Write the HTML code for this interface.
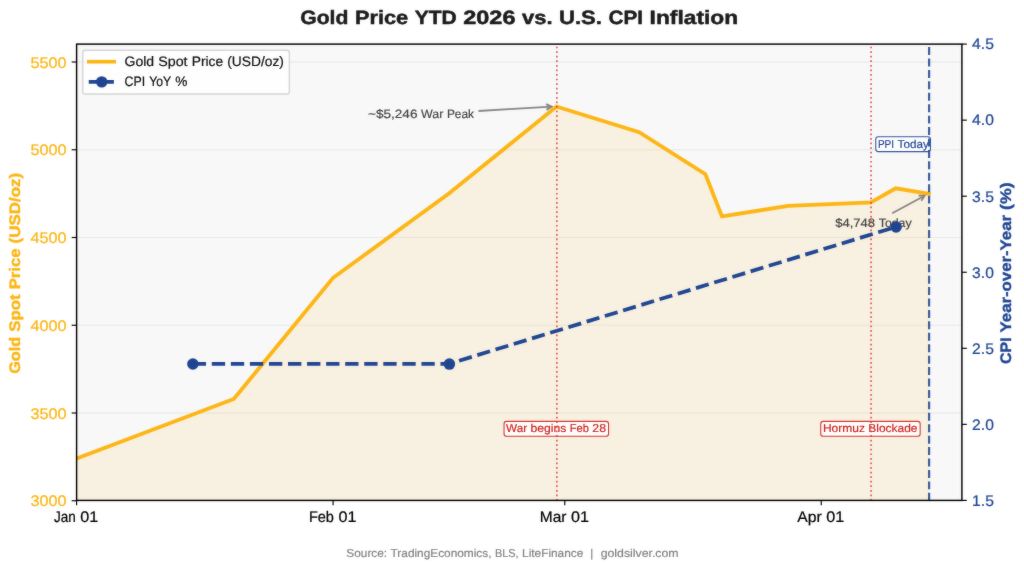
<!DOCTYPE html>
<html lang="en"><head><meta charset="utf-8"><title>Gold Price YTD 2026 vs. U.S. CPI Inflation</title>
<style>html,body{margin:0;padding:0;background:#fff;}body{width:1024px;height:571px;overflow:hidden;font-family:"Liberation Sans",sans-serif;}svg{display:block;will-change:transform;font-family:"Liberation Sans",sans-serif;}text{white-space:pre;text-rendering:geometricPrecision;}</style>
</head><body>
<svg width="1024" height="571" viewBox="0 0 1024 571">
<defs><filter id="soft" x="0" y="0" width="1024" height="571" filterUnits="userSpaceOnUse" color-interpolation-filters="sRGB"><feGaussianBlur in="SourceGraphic" stdDeviation="0.8" result="b"/><feComposite in="SourceGraphic" in2="b" operator="arithmetic" k1="0" k2="0.72" k3="0.28" k4="0"/></filter></defs>
<g filter="url(#soft)">
<rect x="0" y="0" width="1024" height="571" fill="#ffffff"/>
<!-- axes background -->
<rect x="76.60" y="44.10" width="885.30" height="456.30" fill="#f8f8f8"/>
<!-- horizontal grid -->
<line x1="76.60" x2="961.90" y1="500.80" y2="500.80" stroke="#b0b0b0" stroke-opacity="0.22" stroke-width="1.1"/>
<line x1="76.60" x2="961.90" y1="413.05" y2="413.05" stroke="#b0b0b0" stroke-opacity="0.22" stroke-width="1.1"/>
<line x1="76.60" x2="961.90" y1="325.30" y2="325.30" stroke="#b0b0b0" stroke-opacity="0.22" stroke-width="1.1"/>
<line x1="76.60" x2="961.90" y1="237.55" y2="237.55" stroke="#b0b0b0" stroke-opacity="0.22" stroke-width="1.1"/>
<line x1="76.60" x2="961.90" y1="149.80" y2="149.80" stroke="#b0b0b0" stroke-opacity="0.22" stroke-width="1.1"/>
<line x1="76.60" x2="961.90" y1="62.05" y2="62.05" stroke="#b0b0b0" stroke-opacity="0.22" stroke-width="1.1"/>
<!-- gold area + line -->
<polygon points="76.60,458.58 233.80,398.91 333.09,277.81 448.92,193.57 556.48,106.53 639.22,132.15 705.41,174.27 721.96,216.39 788.15,205.86 870.89,202.35 895.71,188.31 928.80,193.93 929.40,193.93 929.40,500.40 76.60,500.40" fill="#FCB514" fill-opacity="0.10"/>
<clipPath id="axclip"><rect x="76.60" y="44.10" width="885.30" height="456.30"/></clipPath>
<polyline clip-path="url(#axclip)" points="76.60,458.58 233.80,398.91 333.09,277.81 448.92,193.57 556.48,106.53 639.22,132.15 705.41,174.27 721.96,216.39 788.15,205.86 870.89,202.35 895.71,188.31 928.80,193.93" fill="none" stroke="#FCB514" stroke-width="3.8" stroke-linejoin="miter" stroke-linecap="square"/>
<!-- event labels -->
<rect x="504.05" y="421.35" width="104.50" height="14.90" rx="2.6" fill="#fff" fill-opacity="0.9" stroke="#cc2222" stroke-opacity="0.9" stroke-width="1.1"/>
<g font-size="11.45" fill="#cc2222" stroke="#cc2222" stroke-width="0.17" stroke-linejoin="round"><text x="506.10" y="431.80" textLength="21.05" lengthAdjust="spacingAndGlyphs">War</text><text x="530.58" y="431.80" textLength="35.83" lengthAdjust="spacingAndGlyphs">begins</text><text x="569.84" y="431.80" textLength="19.12" lengthAdjust="spacingAndGlyphs">Feb</text><text x="592.39" y="431.80" textLength="13.74" lengthAdjust="spacingAndGlyphs">28</text></g>
<rect x="820.75" y="421.35" width="99.40" height="14.90" rx="2.6" fill="#fff" fill-opacity="0.9" stroke="#cc2222" stroke-opacity="0.9" stroke-width="1.1"/>
<g font-size="11.45" fill="#cc2222" stroke="#cc2222" stroke-width="0.17" stroke-linejoin="round"><text x="822.90" y="431.80" textLength="42.01" lengthAdjust="spacingAndGlyphs">Hormuz</text><text x="868.35" y="431.80" textLength="49.14" lengthAdjust="spacingAndGlyphs">Blockade</text></g>
<rect x="875.75" y="136.75" width="54.70" height="14.90" rx="2.6" fill="#fff" fill-opacity="0.9" stroke="#1F4591" stroke-opacity="0.9" stroke-width="1.1"/>
<g font-size="11.45" fill="#1F4591" stroke="#1F4591" stroke-width="0.17" stroke-linejoin="round"><text x="877.90" y="147.50" textLength="16.21" lengthAdjust="spacingAndGlyphs">PPI</text><text x="897.54" y="147.50" textLength="31.23" lengthAdjust="spacingAndGlyphs">Today</text></g>
<!-- annotations -->
<g stroke="#868686" stroke-width="1.85" fill="none" stroke-linecap="butt" stroke-linejoin="miter">
<path d="M478.50 111.00 L551.60 106.65"/>
<path d="M546.48 109.86 L551.60 106.65 L546.14 104.07"/>
</g>
<g stroke="#868686" stroke-width="1.85" fill="none" stroke-linecap="butt" stroke-linejoin="miter">
<path d="M892.20 213.30 L924.60 195.70"/>
<path d="M921.33 200.78 L924.60 195.70 L918.56 195.68"/>
</g>
<g font-size="12.08" fill="#444" stroke="#444" stroke-width="0.18" stroke-linejoin="round"><text x="368.00" y="118.00" textLength="49.44" lengthAdjust="spacingAndGlyphs">~$5,246</text><text x="421.06" y="118.00" textLength="22.22" lengthAdjust="spacingAndGlyphs">War</text><text x="446.90" y="118.00" textLength="27.07" lengthAdjust="spacingAndGlyphs">Peak</text></g>
<g font-size="12.08" fill="#444" stroke="#444" stroke-width="0.18" stroke-linejoin="round"><text x="835.20" y="226.90" textLength="39.89" lengthAdjust="spacingAndGlyphs">$4,748</text><text x="878.71" y="226.90" textLength="32.97" lengthAdjust="spacingAndGlyphs">Today</text></g>
<!-- legend -->
<rect x="82.75" y="50.25" width="206.6" height="43.75" rx="2.6" fill="#fff" fill-opacity="0.8" stroke="#cccccc" stroke-opacity="0.8" stroke-width="1.4"/>
<line x1="87" x2="116" y1="61.7" y2="61.7" stroke="#FCB514" stroke-width="3.65"/>
<line x1="88.75" x2="113.9" y1="81.8" y2="81.8" stroke="#1F4591" stroke-width="3.65" stroke-dasharray="13.3 4.7 20"/>
<circle cx="101.7" cy="81.85" r="5.7" fill="#1F4591"/>
<g font-size="13.67" fill="#111" stroke="#111" stroke-width="0.21" stroke-linejoin="round"><text x="124.50" y="66.00" textLength="29.66" lengthAdjust="spacingAndGlyphs">Gold</text><text x="158.26" y="66.00" textLength="29.33" lengthAdjust="spacingAndGlyphs">Spot</text><text x="191.69" y="66.00" textLength="31.47" lengthAdjust="spacingAndGlyphs">Price</text><text x="227.26" y="66.00" textLength="56.64" lengthAdjust="spacingAndGlyphs">(USD/oz)</text></g>
<g font-size="13.67" fill="#111" stroke="#111" stroke-width="0.21" stroke-linejoin="round"><text x="124.50" y="85.70" textLength="20.59" lengthAdjust="spacingAndGlyphs">CPI</text><text x="149.19" y="85.70" textLength="21.94" lengthAdjust="spacingAndGlyphs">YoY</text><text x="175.23" y="85.70">%</text></g>
<!-- event vertical lines (twin axis layer) -->
<line x1="556.85" x2="556.85" y1="500.80" y2="44.10" stroke="#e03030" stroke-opacity="0.8" stroke-width="1.7" stroke-dasharray="1.72 2.85"/>
<line x1="871.05" x2="871.05" y1="500.80" y2="44.10" stroke="#e03030" stroke-opacity="0.8" stroke-width="1.7" stroke-dasharray="1.72 2.85"/>
<line x1="929.1" x2="929.1" y1="500.80" y2="44.10" stroke="#1F4591" stroke-opacity="0.88" stroke-width="2.2" stroke-dasharray="7.98 3.45"/>
<!-- CPI series -->
<polyline points="192.73,363.76 449.22,363.76 896.01,226.87" fill="none" stroke="#1F4591" stroke-width="3.75" stroke-dasharray="13.305 5.753" stroke-linejoin="round"/>
<circle cx="192.90" cy="364.00" r="5.75" fill="#1F4591"/>
<circle cx="449.40" cy="364.10" r="5.75" fill="#1F4591"/>
<circle cx="896.10" cy="226.90" r="5.75" fill="#1F4591"/>
<!-- spines -->
<rect x="76.60" y="44.10" width="885.30" height="456.30" stroke="#000" stroke-width="1.45" fill="none"/>
<!-- ticks -->
<g stroke="#000" stroke-width="1.15">
<line x1="71.65" x2="76.60" y1="500.75" y2="500.75"/>
<line x1="71.65" x2="76.60" y1="413.00" y2="413.00"/>
<line x1="71.65" x2="76.60" y1="325.25" y2="325.25"/>
<line x1="71.65" x2="76.60" y1="237.50" y2="237.50"/>
<line x1="71.65" x2="76.60" y1="149.75" y2="149.75"/>
<line x1="71.65" x2="76.60" y1="62.00" y2="62.00"/>
<line x1="961.90" x2="966.85" y1="500.40" y2="500.40"/>
<line x1="961.90" x2="966.85" y1="424.35" y2="424.35"/>
<line x1="961.90" x2="966.85" y1="348.30" y2="348.30"/>
<line x1="961.90" x2="966.85" y1="272.25" y2="272.25"/>
<line x1="961.90" x2="966.85" y1="196.20" y2="196.20"/>
<line x1="961.90" x2="966.85" y1="120.15" y2="120.15"/>
<line x1="961.90" x2="966.85" y1="44.10" y2="44.10"/>
<line x1="76.60" x2="76.60" y1="500.40" y2="505.35"/>
<line x1="333.09" x2="333.09" y1="500.40" y2="505.35"/>
<line x1="564.76" x2="564.76" y1="500.40" y2="505.35"/>
<line x1="821.24" x2="821.24" y1="500.40" y2="505.35"/>
</g>
<!-- tick labels -->
<g font-size="15.37" fill="#FCB514" stroke="#FCB514" stroke-width="0.23" stroke-linejoin="round"><text x="30.52" y="506.35" textLength="35.98" lengthAdjust="spacingAndGlyphs">3000</text></g>
<g font-size="15.37" fill="#FCB514" stroke="#FCB514" stroke-width="0.23" stroke-linejoin="round"><text x="30.52" y="418.60" textLength="35.98" lengthAdjust="spacingAndGlyphs">3500</text></g>
<g font-size="15.37" fill="#FCB514" stroke="#FCB514" stroke-width="0.23" stroke-linejoin="round"><text x="30.52" y="330.85" textLength="35.98" lengthAdjust="spacingAndGlyphs">4000</text></g>
<g font-size="15.37" fill="#FCB514" stroke="#FCB514" stroke-width="0.23" stroke-linejoin="round"><text x="30.52" y="243.10" textLength="35.98" lengthAdjust="spacingAndGlyphs">4500</text></g>
<g font-size="15.37" fill="#FCB514" stroke="#FCB514" stroke-width="0.23" stroke-linejoin="round"><text x="30.52" y="155.35" textLength="35.98" lengthAdjust="spacingAndGlyphs">5000</text></g>
<g font-size="15.37" fill="#FCB514" stroke="#FCB514" stroke-width="0.23" stroke-linejoin="round"><text x="30.52" y="67.60" textLength="35.98" lengthAdjust="spacingAndGlyphs">5500</text></g>
<g font-size="15.37" fill="#1F4591" stroke="#1F4591" stroke-width="0.23" stroke-linejoin="round"><text x="972.10" y="505.70" textLength="21.79" lengthAdjust="spacingAndGlyphs">1.5</text></g>
<g font-size="15.37" fill="#1F4591" stroke="#1F4591" stroke-width="0.23" stroke-linejoin="round"><text x="972.10" y="429.65" textLength="21.79" lengthAdjust="spacingAndGlyphs">2.0</text></g>
<g font-size="15.37" fill="#1F4591" stroke="#1F4591" stroke-width="0.23" stroke-linejoin="round"><text x="972.10" y="353.60" textLength="21.79" lengthAdjust="spacingAndGlyphs">2.5</text></g>
<g font-size="15.37" fill="#1F4591" stroke="#1F4591" stroke-width="0.23" stroke-linejoin="round"><text x="972.10" y="277.55" textLength="21.79" lengthAdjust="spacingAndGlyphs">3.0</text></g>
<g font-size="15.37" fill="#1F4591" stroke="#1F4591" stroke-width="0.23" stroke-linejoin="round"><text x="972.10" y="201.50" textLength="21.79" lengthAdjust="spacingAndGlyphs">3.5</text></g>
<g font-size="15.37" fill="#1F4591" stroke="#1F4591" stroke-width="0.23" stroke-linejoin="round"><text x="972.10" y="125.45" textLength="21.79" lengthAdjust="spacingAndGlyphs">4.0</text></g>
<g font-size="15.37" fill="#1F4591" stroke="#1F4591" stroke-width="0.23" stroke-linejoin="round"><text x="972.10" y="49.40" textLength="21.79" lengthAdjust="spacingAndGlyphs">4.5</text></g>
<g font-size="15.37" fill="#000" stroke="#000" stroke-width="0.23" stroke-linejoin="round"><text x="54.06" y="521.60" textLength="21.79" lengthAdjust="spacingAndGlyphs">Jan</text><text x="80.35" y="521.60" textLength="17.99" lengthAdjust="spacingAndGlyphs">01</text></g>
<g font-size="15.37" fill="#000" stroke="#000" stroke-width="0.23" stroke-linejoin="round"><text x="308.93" y="521.60" textLength="25.03" lengthAdjust="spacingAndGlyphs">Feb</text><text x="338.46" y="521.60" textLength="17.99" lengthAdjust="spacingAndGlyphs">01</text></g>
<g font-size="15.37" fill="#000" stroke="#000" stroke-width="0.23" stroke-linejoin="round"><text x="539.78" y="521.60" textLength="26.67" lengthAdjust="spacingAndGlyphs">Mar</text><text x="570.95" y="521.60" textLength="17.99" lengthAdjust="spacingAndGlyphs">01</text></g>
<g font-size="15.37" fill="#000" stroke="#000" stroke-width="0.23" stroke-linejoin="round"><text x="797.37" y="521.60" textLength="24.46" lengthAdjust="spacingAndGlyphs">Apr</text><text x="826.33" y="521.60" textLength="17.99" lengthAdjust="spacingAndGlyphs">01</text></g>
<!-- axis labels -->
<g transform="rotate(-90 20.20 273.25)">
<g font-size="15.26" fill="#FCB514" stroke="#FCB514" stroke-width="0.37" stroke-linejoin="round" font-weight="bold"><text x="-80.33" y="273.25" textLength="36.96" lengthAdjust="spacingAndGlyphs">Gold</text><text x="-38.36" y="273.25" textLength="37.46" lengthAdjust="spacingAndGlyphs">Spot</text><text x="4.11" y="273.25" textLength="40.89" lengthAdjust="spacingAndGlyphs">Price</text><text x="50.02" y="273.25" textLength="70.71" lengthAdjust="spacingAndGlyphs">(USD/oz)</text></g>
</g>
<g transform="rotate(-90 1010.90 273.15)">
<g font-size="15.26" fill="#1F4591" stroke="#1F4591" stroke-width="0.37" stroke-linejoin="round" font-weight="bold"><text x="920.17" y="273.15" textLength="26.48" lengthAdjust="spacingAndGlyphs">CPI</text><text x="951.66" y="273.15" textLength="117.37" lengthAdjust="spacingAndGlyphs">Year-over-Year</text><text x="1074.04" y="273.15" textLength="27.59" lengthAdjust="spacingAndGlyphs">(%)</text></g>
</g>
<!-- title + source -->
<g font-size="19.23" fill="#1a1a1a" stroke="#1a1a1a" stroke-width="0.49" stroke-linejoin="round" font-weight="bold"><text x="300.27" y="23.70" textLength="48.15" lengthAdjust="spacingAndGlyphs">Gold</text><text x="354.94" y="23.70" textLength="53.28" lengthAdjust="spacingAndGlyphs">Price</text><text x="414.75" y="23.70" textLength="41.95" lengthAdjust="spacingAndGlyphs">YTD</text><text x="463.24" y="23.70" textLength="52.21" lengthAdjust="spacingAndGlyphs">2026</text><text x="521.98" y="23.70" textLength="30.52" lengthAdjust="spacingAndGlyphs">vs.</text><text x="559.03" y="23.70" textLength="43.00" lengthAdjust="spacingAndGlyphs">U.S.</text><text x="608.56" y="23.70" textLength="34.50" lengthAdjust="spacingAndGlyphs">CPI</text><text x="649.59" y="23.70" textLength="88.54" lengthAdjust="spacingAndGlyphs">Inflation</text></g>
<g font-size="11.45" fill="#828282" stroke="#828282" stroke-width="0.17" stroke-linejoin="round"><text x="346.39" y="557.25" textLength="40.73" lengthAdjust="spacingAndGlyphs">Source:</text><text x="390.55" y="557.25" textLength="100.97" lengthAdjust="spacingAndGlyphs">TradingEconomics,</text><text x="494.95" y="557.25" textLength="23.71" lengthAdjust="spacingAndGlyphs">BLS,</text><text x="522.10" y="557.25" textLength="61.21" lengthAdjust="spacingAndGlyphs">LiteFinance</text><text x="590.18" y="557.25">|</text><text x="600.68" y="557.25" textLength="77.93" lengthAdjust="spacingAndGlyphs">goldsilver.com</text></g>
</g>
</svg></body></html>
